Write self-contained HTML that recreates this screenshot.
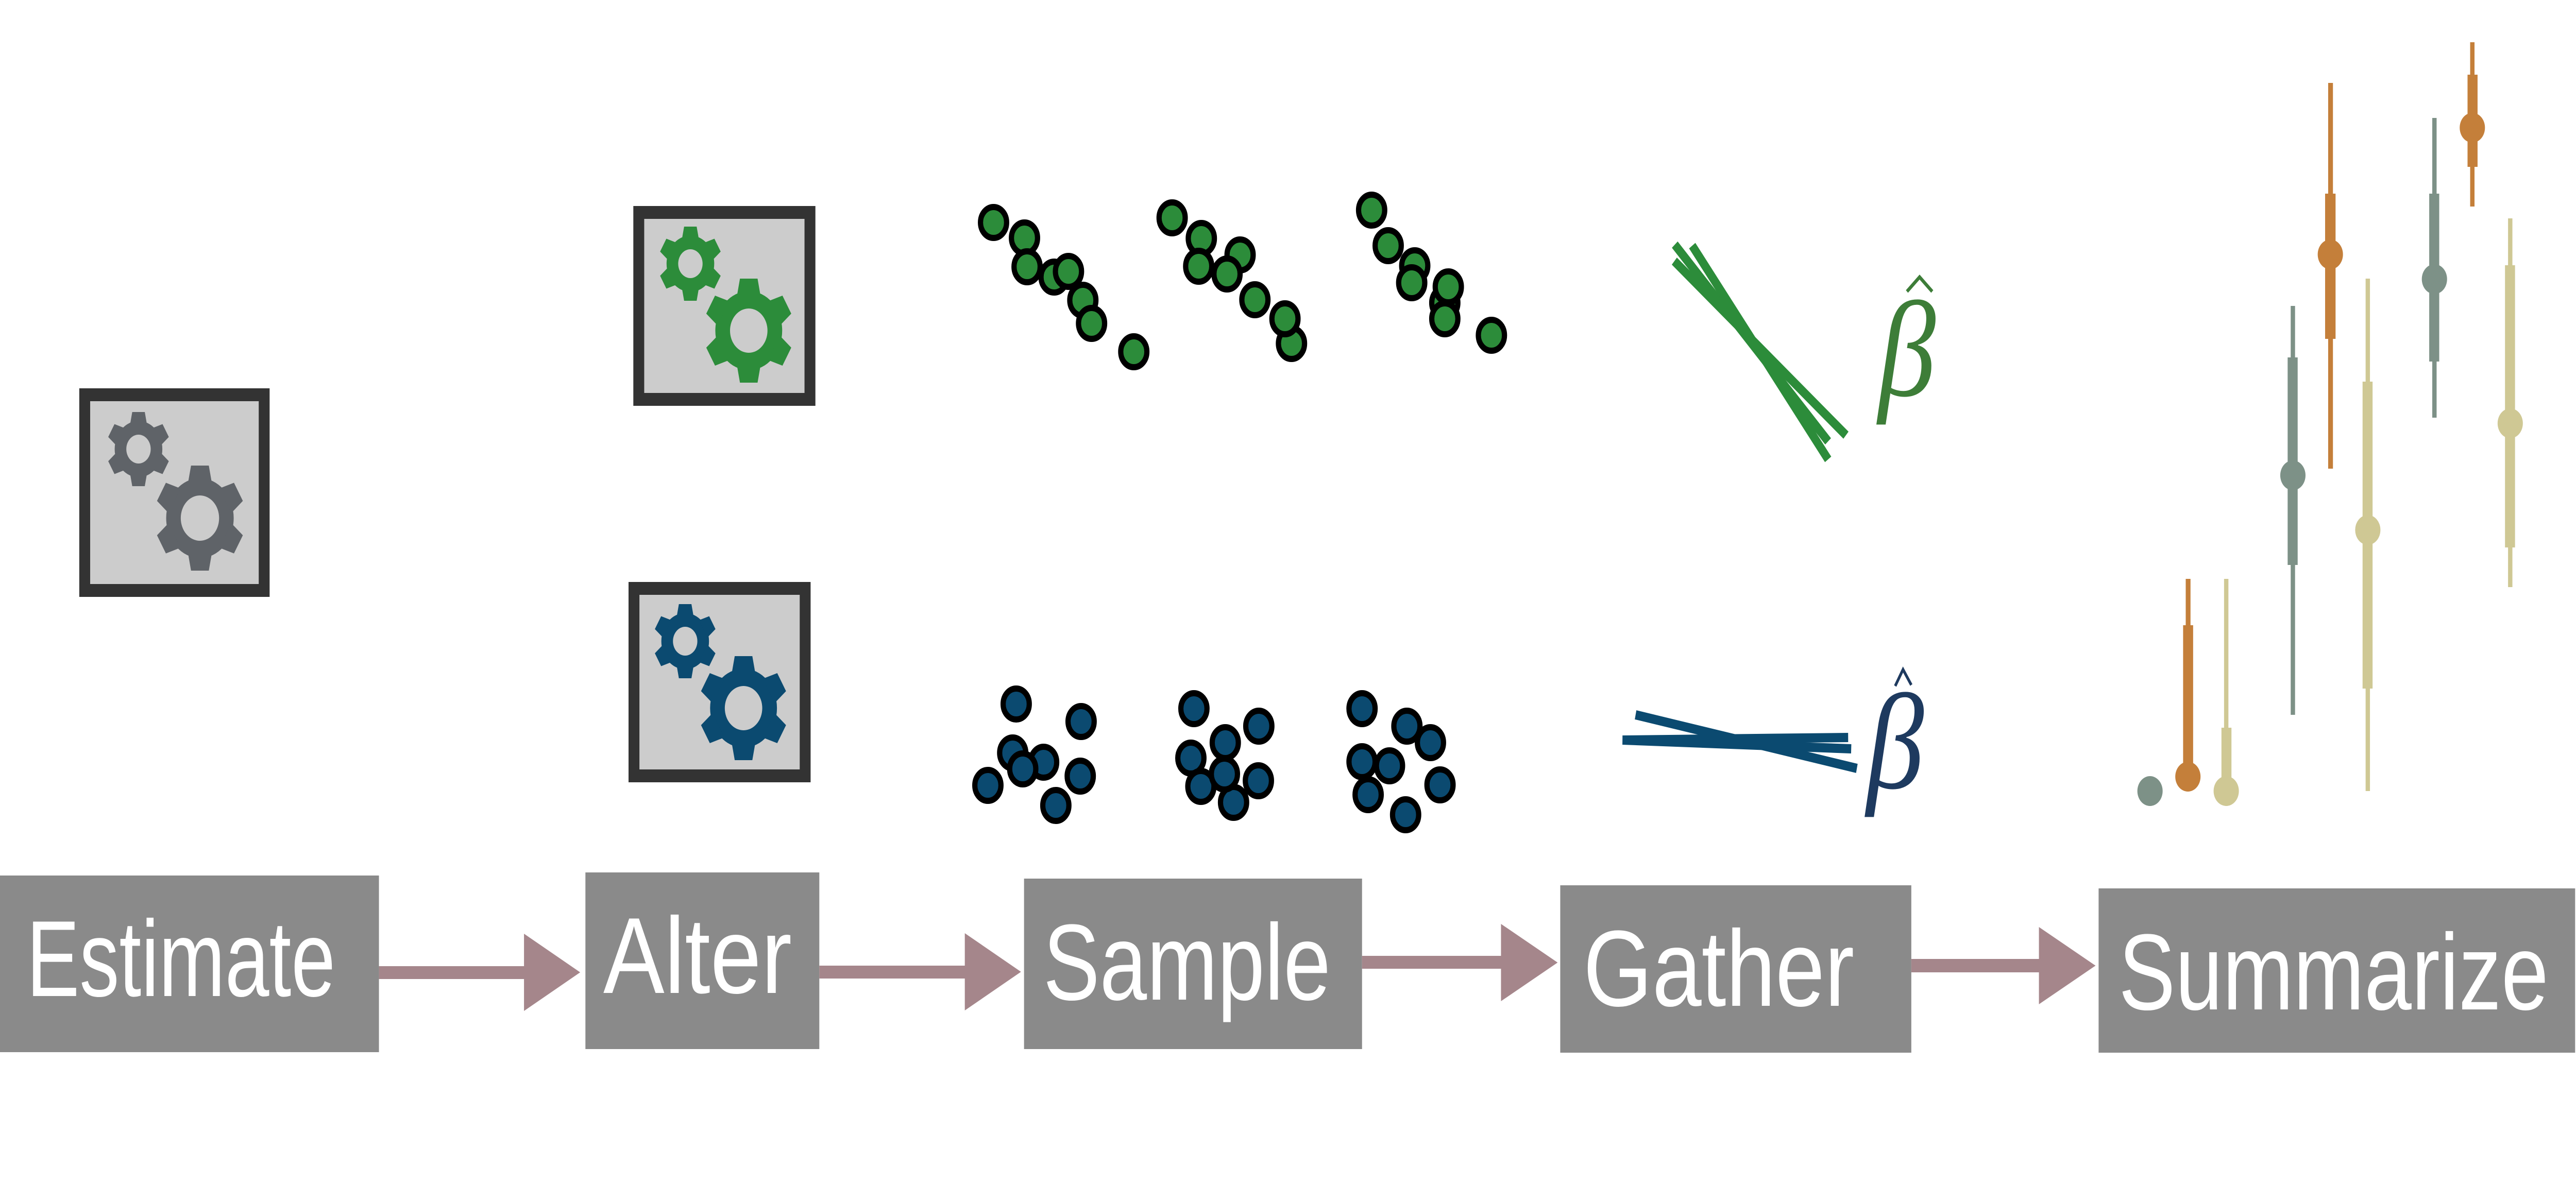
<!DOCTYPE html>
<html><head><meta charset="utf-8"><style>
html,body{margin:0;padding:0;background:#fff;width:100%;height:100%;overflow:hidden;}
svg{display:block;width:100vw;height:100vh;}
</style></head><body>
<svg xmlns="http://www.w3.org/2000/svg" viewBox="0 0 5914 2332" preserveAspectRatio="none">
<defs>
  <symbol id="gear" viewBox="-1 -1 2 2">
    <circle cx="0" cy="0" r="0.76"/>
    <g id="t"><polygon points="-0.2,-1 0.2,-1 0.27,-0.66 -0.27,-0.66"/></g>
    <use href="#t" transform="rotate(60)"/>
    <use href="#t" transform="rotate(120)"/>
    <use href="#t" transform="rotate(180)"/>
    <use href="#t" transform="rotate(240)"/>
    <use href="#t" transform="rotate(300)"/>
  </symbol>
</defs>
<rect width="5914" height="2332" fill="#fff"/>

<g>
  <rect x="194.5" y="766.5" width="412" height="380" fill="#cccccc" stroke="#333" stroke-width="25"/>
  <use href="#gear" x="246" y="800" width="144" height="144" fill="#5f6368"/>
  <circle cx="318" cy="872" r="28" fill="#cccccc"/>
  <use href="#gear" x="357" y="904" width="204" height="204" fill="#5f6368"/>
  <circle cx="459" cy="1006" r="44" fill="#cccccc"/>
</g>
<g>
  <rect x="1466.5" y="412.5" width="393" height="363" fill="#cccccc" stroke="#333" stroke-width="25"/>
  <use href="#gear" x="1513" y="440" width="144" height="144" fill="#2c8c3a"/>
  <circle cx="1585" cy="512" r="28" fill="#cccccc"/>
  <use href="#gear" x="1618" y="541" width="202" height="202" fill="#2c8c3a"/>
  <circle cx="1719" cy="642" r="43" fill="#cccccc"/>
</g>
<g>
  <rect x="1455.5" y="1142.5" width="393" height="364" fill="#cccccc" stroke="#333" stroke-width="25"/>
  <use href="#gear" x="1501" y="1173" width="144" height="144" fill="#0b4a70"/>
  <circle cx="1573" cy="1245" r="28" fill="#cccccc"/>
  <use href="#gear" x="1606" y="1274" width="202" height="202" fill="#0b4a70"/>
  <circle cx="1707" cy="1375" r="43" fill="#cccccc"/>
</g>

<g fill="#2c8c3a" stroke="#000" stroke-width="12">
  <circle cx="2281" cy="432" r="30"/><circle cx="2352" cy="462" r="30"/><circle cx="2358" cy="518" r="30"/><circle cx="2420" cy="538" r="30"/><circle cx="2453" cy="527" r="30"/><circle cx="2486" cy="583" r="30"/><circle cx="2506" cy="628" r="30"/><circle cx="2603" cy="683" r="30"/>
  <circle cx="2691" cy="423" r="30"/><circle cx="2758" cy="463" r="30"/><circle cx="2847" cy="495" r="30"/><circle cx="2752" cy="517" r="30"/><circle cx="2817" cy="532" r="30"/><circle cx="2881" cy="582" r="30"/><circle cx="2965" cy="667" r="30"/><circle cx="2950" cy="619" r="30"/>
  <circle cx="3149" cy="408" r="30"/><circle cx="3187" cy="477" r="30"/><circle cx="3248" cy="516" r="30"/><circle cx="3241" cy="549" r="30"/><circle cx="3317" cy="588" r="30"/><circle cx="3325" cy="557" r="30"/><circle cx="3317" cy="619" r="30"/><circle cx="3424" cy="651" r="30"/>
</g>
<g fill="#0b4a70" stroke="#000" stroke-width="12">
  <circle cx="2333" cy="1367" r="30"/><circle cx="2482" cy="1401" r="30"/><circle cx="2325" cy="1462" r="30"/><circle cx="2396" cy="1480" r="30"/><circle cx="2348" cy="1493" r="30"/><circle cx="2480" cy="1507" r="30"/><circle cx="2268" cy="1525" r="30"/><circle cx="2424" cy="1564" r="30"/>
  <circle cx="2741" cy="1376" r="30"/><circle cx="2890" cy="1410" r="30"/><circle cx="2813" cy="1442" r="30"/><circle cx="2734" cy="1472" r="30"/><circle cx="2757" cy="1527" r="30"/><circle cx="2832" cy="1558" r="30"/><circle cx="2811" cy="1503" r="30"/><circle cx="2889" cy="1516" r="30"/>
  <circle cx="3127" cy="1376" r="30"/><circle cx="3230" cy="1410" r="30"/><circle cx="3284" cy="1442" r="30"/><circle cx="3127" cy="1479" r="30"/><circle cx="3141" cy="1543" r="30"/><circle cx="3190" cy="1487" r="30"/><circle cx="3306" cy="1524" r="30"/><circle cx="3227" cy="1582" r="30"/>
</g>

<g stroke="#2c8c3a" stroke-width="18">
  <line x1="3845" y1="475" x2="4197" y2="857"/>
  <line x1="3885" y1="477" x2="4197" y2="892"/>
  <line x1="3844" y1="507" x2="4238" y2="845"/>
</g>
<g stroke="#0b4a70" stroke-width="18">
  <line x1="3755" y1="1388" x2="4263" y2="1492"/>
  <line x1="3725" y1="1437" x2="4243" y2="1432"/>
  <line x1="3725" y1="1437" x2="4250" y2="1454"/>
</g>
<polyline points="4378,566 4407,538 4436,566" fill="none" stroke="#3d7d38" stroke-width="7"/>
<text x="4312" y="768" font-family="Liberation Serif, serif" font-style="italic" font-size="265" fill="#3d7d38">β</text>
<polyline points="4351,1332 4369,1300 4388,1330" fill="none" stroke="#1e3a5f" stroke-width="6"/>
<text x="4285" y="1530" font-family="Liberation Serif, serif" font-style="italic" font-size="265" fill="#1e3a5f">β</text>

<g>
  <circle cx="4936" cy="1536" r="29" fill="#7d9187"/>
  <rect x="5018" y="1124" width="11" height="90" fill="#c47f3a"/>
  <rect x="5012" y="1214" width="23" height="294" fill="#c47f3a"/>
  <circle cx="5023" cy="1508" r="29" fill="#c47f3a"/>
  <rect x="5106" y="1124" width="10" height="289" fill="#cfc894"/>
  <rect x="5100" y="1413" width="23" height="123" fill="#cfc894"/>
  <circle cx="5111" cy="1536" r="29" fill="#cfc894"/>
  <rect x="5259" y="594" width="10" height="794" fill="#7d9187"/>
  <rect x="5252" y="694" width="23" height="403" fill="#7d9187"/>
  <circle cx="5264" cy="923" r="29" fill="#7d9187"/>
  <rect x="5345" y="161" width="11" height="749" fill="#c47f3a"/>
  <rect x="5338" y="376" width="24" height="282" fill="#c47f3a"/>
  <circle cx="5350" cy="494" r="29" fill="#c47f3a"/>
  <rect x="5431" y="541" width="10" height="995" fill="#cfc894"/>
  <rect x="5424" y="741" width="23" height="596" fill="#cfc894"/>
  <circle cx="5436" cy="1029" r="29" fill="#cfc894"/>
  <rect x="5584" y="229" width="10" height="582" fill="#7d9187"/>
  <rect x="5577" y="376" width="23" height="326" fill="#7d9187"/>
  <circle cx="5589" cy="542" r="29" fill="#7d9187"/>
  <rect x="5671" y="82" width="10" height="319" fill="#c47f3a"/>
  <rect x="5665" y="145" width="23" height="179" fill="#c47f3a"/>
  <circle cx="5676" cy="248" r="29" fill="#c47f3a"/>
  <rect x="5758" y="424" width="10" height="716" fill="#cfc894"/>
  <rect x="5751" y="515" width="23" height="548" fill="#cfc894"/>
  <circle cx="5763" cy="822" r="29" fill="#cfc894"/>
</g>

<g fill="#8a8a8a">
  <rect x="0" y="1700" width="870" height="343"/>
  <rect x="1344" y="1694" width="537" height="343"/>
  <rect x="2351" y="1706" width="776" height="331"/>
  <rect x="3582" y="1719" width="806" height="325"/>
  <rect x="4818" y="1725" width="1094" height="319"/>
</g>
<g fill="#a5868b">
  <rect x="870" y="1876" width="335" height="25"/>
  <polygon points="1203,1813 1332,1888 1203,1963"/>
  <rect x="1881" y="1875" width="336" height="25"/>
  <polygon points="2215,1812 2344,1887 2215,1962"/>
  <rect x="3127" y="1856" width="321" height="25"/>
  <polygon points="3446,1794 3576,1869 3446,1944"/>
  <rect x="4388" y="1862" width="295" height="26"/>
  <polygon points="4681,1800 4811,1875 4681,1950"/>
</g>
<g font-family="Liberation Sans, sans-serif" font-size="210" fill="#fff">
  <text x="61" y="1934" textLength="709" lengthAdjust="spacingAndGlyphs">Estimate</text>
  <text x="1385" y="1928" textLength="433" lengthAdjust="spacingAndGlyphs">Alter</text>
  <text x="2395" y="1941" textLength="660" lengthAdjust="spacingAndGlyphs">Sample</text>
  <text x="3635" y="1953" textLength="622" lengthAdjust="spacingAndGlyphs">Gather</text>
  <text x="4864" y="1960" textLength="987" lengthAdjust="spacingAndGlyphs">Summarize</text>
</g>
</svg>
</body></html>
